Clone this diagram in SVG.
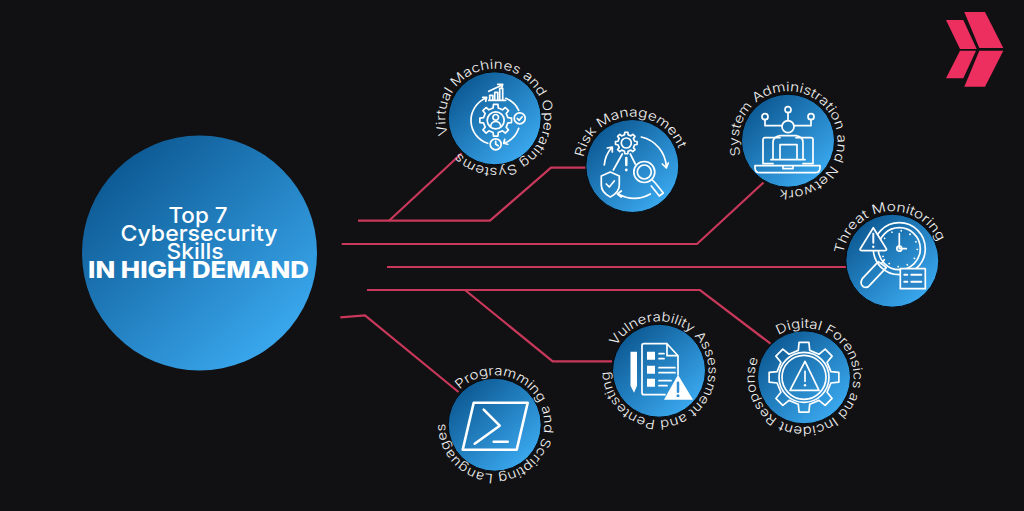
<svg xmlns="http://www.w3.org/2000/svg" width="1024" height="511" viewBox="0 0 1024 511">
<style>
.link{fill:none;stroke:#c9385a;stroke-width:2.2}
.disc{fill:url(#blue);stroke:#050608;stroke-width:1}
.ico{fill:none;stroke:#fff;stroke-width:1.7;stroke-linecap:round;stroke-linejoin:round}
.ns{vector-effect:non-scaling-stroke}
.solid{fill:#fff;stroke:none}
.ring{font-family:"Inter","Liberation Sans",sans-serif;font-size:13px;font-weight:300;fill:#f2f2f2}
.head{font-family:"Inter","Liberation Sans",sans-serif;font-size:22px;font-weight:500;fill:#fff;text-anchor:middle}
.bold{font-size:22.5px;font-weight:800}
.logo{fill:#ec2f5f}
</style>
<defs>
<linearGradient id="blue" x1=".15" y1=".12" x2=".85" y2=".88"><stop offset="0" stop-color="#0d5a94"/><stop offset="1" stop-color="#3aa8ee"/></linearGradient>
<path id="ring" d="M0,-49.5A49.5,49.5 0 1 1 0,49.5A49.5,49.5 0 1 1 0,-49.5"/>
<polygon id="gear" class="ns" points="-2.6,-12.23 -2.23,-15.84 2.23,-15.84 2.6,-12.23 6.81,-10.49 9.62,-12.78 12.78,-9.62 10.49,-6.81 12.23,-2.6 15.84,-2.23 15.84,2.23 12.23,2.6 10.49,6.81 12.78,9.62 9.62,12.78 6.81,10.49 2.6,12.23 2.23,15.84 -2.23,15.84 -2.6,12.23 -6.81,10.49 -9.62,12.78 -12.78,9.62 -10.49,6.81 -12.23,2.6 -15.84,2.23 -15.84,-2.23 -12.23,-2.6 -10.49,-6.81 -12.78,-9.62 -9.62,-12.78 -6.81,-10.49"/>
</defs>
<rect width="1024" height="511" fill="#111113"/>
<g id="connectors">
<path class="link" d="M358,220.7H490L551,167.7H588"/>
<path class="link" d="M389,220.7L461.7,153.3"/>
<path class="link" d="M341.7,244H697L763.5,182.5"/>
<path class="link" d="M387,267H846"/>
<path class="link" d="M367,290H700L770.5,343.7"/>
<path class="link" d="M465,290L552.7,361.3H612"/>
<path class="link" d="M340.3,317.3L365,315.5L458.5,392"/>
</g>
<g id="logo">
<polygon class="logo" points="964.3,12 985,12 1003.3,48 979.3,48"/>
<polygon class="logo" points="946,20 963.3,20 976.7,49 960,49"/>
<polygon class="logo" points="960,50.7 976,50.7 963.3,78.3 946,78.3"/>
<polygon class="logo" points="979.3,50.7 1003.3,50.7 985,86.7 964.3,86.7"/>
</g>
<g id="hub">
<circle cx="199.5" cy="253" r="117.5" fill="url(#blue)"/>
<text class="head"><tspan x="198" y="222.7" textLength="59" lengthAdjust="spacingAndGlyphs">Top 7</tspan><tspan x="199" y="241" textLength="157" lengthAdjust="spacingAndGlyphs">Cybersecurity</tspan><tspan x="195" y="259.3" textLength="57" lengthAdjust="spacingAndGlyphs">Skills</tspan><tspan class="bold" x="198.5" y="277.7" textLength="221" lengthAdjust="spacingAndGlyphs">IN HIGH DEMAND</tspan></text>
</g>
<g id="node-virtual-machines" transform="translate(494.7,118.3)">
<circle class="disc" r="46.5"/>
<g transform="rotate(251)"><text class="ring"><textPath href="#ring" textLength="289" lengthAdjust="spacingAndGlyphs">Virtual Machines and Operating Systems</textPath></text></g>
<g class="ico">
<use href="#gear" transform="translate(1,2)"/>
<circle cx="1" cy="2" r="8.5"/><circle cx="1" cy="-1" r="2.8"/><path d="M-4,8a5,5 0 0 1 10,0"/>
<path d="M-9,-20A24,24 0 0 0 -7,25M11,-20A24,24 0 0 1 24,-8M24,10A24,24 0 0 1 9,25M-12,-21L-8,-21L-9,-17M13,26L9,25L10,21"/>
<path d="M-6,-18H11M-5,-18V-23H-2V-18M0,-18V-26H3V-18M5,-18V-30H8V-18M-6,-27L7,-33M3,-34L8,-34L7,-30"/>
<circle cx="25" cy="0" r="5.5"/><path d="M22.5,0L24.5,2L27.5,-1.5"/>
<circle cx="1" cy="26" r="5.5"/><path d="M1,23V26L3.5,27.5"/>
</g>
</g>
<g id="node-risk-management" transform="translate(632.3,166)">
<circle class="disc" r="46.5"/>
<g transform="rotate(280)"><text class="ring"><textPath href="#ring" textLength="129" lengthAdjust="spacingAndGlyphs">Risk Management</textPath></text></g>
<g class="ico">
<use href="#gear" transform="translate(-6,-23) scale(.68)"/><circle cx="-6" cy="-23" r="5"/>
<path d="M-10,-12L-19,4M-2,-12L3,-2"/><path d="M-6,-8V-1" stroke-width="2.5"/><circle class="solid" cx="-6" cy="4" r="1.4"/>
<circle cx="12" cy="6" r="10.5"/><circle cx="12" cy="6" r="7"/><path d="M19.5,13.5L23,17L31,27L27,30L19,20"/>
<path d="M-22,6L-13,10V19C-13,25 -18,29 -22,31C-26,29 -31,25 -31,19V10Z"/><path d="M-26,18L-23,21L-18,15"/>
<path d="M9,-29A32,32 0 0 1 34,1M30,-2L34,2L36,-3"/><path d="M18,28A32,32 0 0 1 -14,28M-11,25L-15,28L-11,31"/>
<path d="M-28,-1A30,30 0 0 1 -21,-18M-25,-18L-20,-19L-20,-14"/>
</g>
</g>
<g id="node-system-administration" transform="translate(788,140.7)">
<circle class="disc" r="46.5"/>
<g transform="rotate(253)"><text class="ring"><textPath href="#ring" textLength="255.7" lengthAdjust="spacingAndGlyphs">System Administration and Network</textPath></text></g>
<g class="ico">
<circle cy="-14" r="6"/><circle cy="-31" r="3"/><circle cx="-23" cy="-24" r="3"/><circle cx="23" cy="-24" r="3"/>
<path d="M0,-28V-20M-23,-21V-15H-6M23,-21V-15H6"/>
<path d="M-15,23H-25V-1Q-25,-3 -23,-3H-8M8,-3H23Q25,-3 25,-1V23H15"/>
<path d="M-15,19V2Q-15,-4 -8,-5H8Q15,-4 15,2V19M-8,18V4H9V18M-17,19H17"/>
<path d="M-33,25H32V27Q32,32 27,32H-28Q-33,32 -33,27ZM-5,25V28H5V25"/>
</g>
</g>
<g id="node-threat-monitoring" transform="translate(892.3,260.7)">
<circle class="disc" r="46.5"/>
<g transform="rotate(278)"><text class="ring"><textPath href="#ring" textLength="129" lengthAdjust="spacingAndGlyphs">Threat Monitoring</textPath></text></g>
<g class="ico">
<circle cx="7" cy="-12" r="26"/><circle cx="7" cy="-12" r="21"/><circle cx="7" cy="-12" r="18" stroke-dasharray="1.5 8" stroke-linecap="butt"/>
<path d="M7,-27V-12H14"/><circle cx="7" cy="-12" r="2.5"/>
<path d="M-19,-33L-32,-12Q-33,-10 -30,-10H-8Q-5,-10 -6,-12Z" fill="#1c6cac"/><path d="M-19,-27V-18" stroke-width="2"/><circle class="solid" cx="-19" cy="-14" r="1.2"/>
<path d="M-11,3L-14,1L-30,18Q-33,23 -29,26Q-25,28 -22,24L-6,7ZM-11,3L-8,-1"/>
<path d="M8,8H33V28H8Z" fill="#2a86c8"/><path d="M12,14H15M12,21H15M19,14H29M19,21H29" stroke-width="2"/>
</g>
</g>
<g id="node-digital-forensics" transform="translate(804,377.3)">
<circle class="disc" r="46.5"/>
<g transform="rotate(329)"><text class="ring"><textPath href="#ring" textLength="279" lengthAdjust="spacingAndGlyphs">Digital Forensics and Incident Response</textPath></text></g>
<g class="ico">
<use href="#gear" transform="scale(2.2)"/>
<circle r="25"/><circle r="22"/>
<path d="M1,-16L-14,13H15Z"/><path d="M1,-6V4"/><circle class="solid" cx="1" cy="8" r="1.2"/>
</g>
</g>
<g id="node-vulnerability" transform="translate(659,370.7)">
<circle class="disc" r="46.5"/>
<g transform="rotate(300)"><text class="ring"><textPath href="#ring" textLength="284.2" lengthAdjust="spacingAndGlyphs">Vulnerability Assessment and Pentesting</textPath></text></g>
<g class="ico">
<path class="solid" d="M-28.5,-19H-22V15L-25,22L-28.5,15Z"/>
<path d="M8,-27H-15Q-17,-27 -17,-25V22Q-17,24 -15,24H6M8,-27L19,-15V4M8,-27V-15H19"/>
<path class="solid" d="M-12,-19H-4V-11H-12ZM-12,-5H-4V3H-12ZM-12,8H-4V16H-12Z"/>
<path d="M0,-17H5M0,-12H5M0,-3H16M0,2H16M0,10H12M0,15H8"/>
<path class="solid" d="M19,4L34,29H5Z"/>
<path d="M19,12V21" stroke="#2d8dd2" stroke-width="2.5"/><circle cx="19" cy="25" r="1.5" fill="#2d8dd2" stroke="none"/>
</g>
</g>
<g id="node-programming" transform="translate(494.7,424.7)">
<circle class="disc" r="46.5"/>
<g transform="rotate(315)"><text class="ring"><textPath href="#ring" textLength="273" lengthAdjust="spacingAndGlyphs">Programming and Scripting Languages</textPath></text></g>
<g class="ico">
<path d="M-21,-22H33L22,25H-32Z" stroke-width="2.6"/>
<path d="M-11,-15L5,1L-20,19" stroke-width="2.6"/>
<path d="M-1,17H13" stroke-width="2.6"/>
</g>
</g>
</svg>
